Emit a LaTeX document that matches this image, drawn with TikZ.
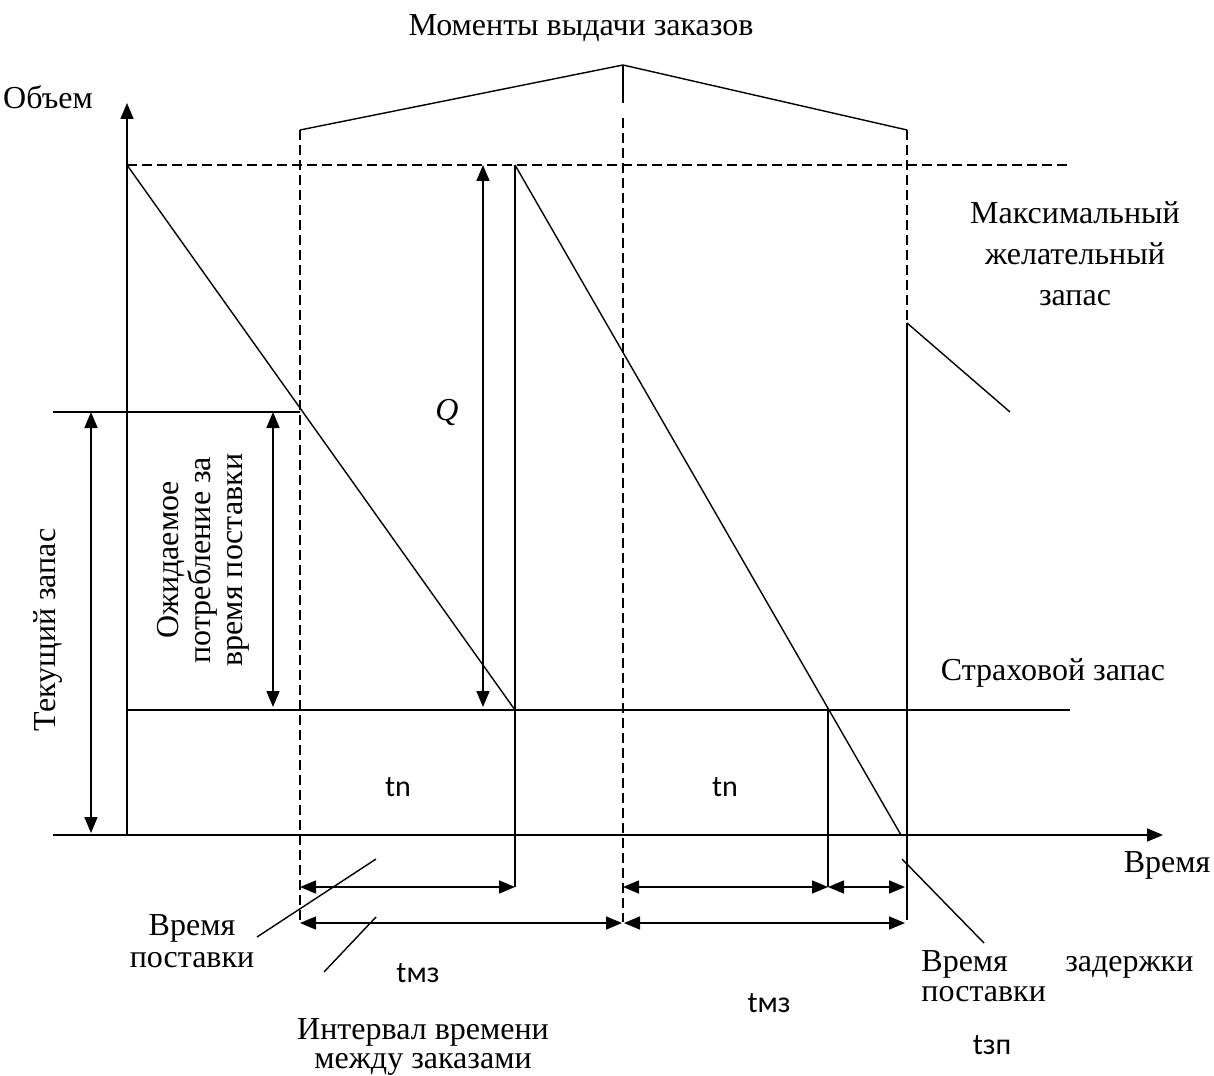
\documentclass[tikz,border=0pt]{standalone}
\usepackage{fontspec}
\setmainfont{Liberation Serif}
\newfontfamily\calib{Carlito}
\usetikzlibrary{arrows.meta,positioning}
\tikzset{
	>={Triangle[length=8pt,width=6.5pt]},
	thinline/.style={
		line width=0.7pt},
	dashline/.style={
		line width=0.7pt,
		dash pattern=on 5pt off 2.5pt},
	dimline/.style={
		<->,
		line width=0.8pt},
	axisline/.style={
		->,
		line width=0.8pt},
	caption/.style={
		inner sep=0pt,
		align=center,
		font=\fontsize{16}{16}\selectfont},
	tlabel/.style={
		inner sep=0pt,
		font=\calib\fontsize{15}{17}\selectfont}
}

\begin{document}
\begin{tikzpicture}[x=0.5pt, y=-0.5pt]
    \useasboundingbox (0,0) rectangle (1214,1075);

    % axes and levels
    \coordinate (O) at (127,835);
    \coordinate (ytop) at (127,103);
    \coordinate (xbeg) at (53,835);
    \coordinate (xend) at (1163,835);
    \coordinate (maxL) at (127,165);
    \coordinate (maxR) at (1070,165);
    \coordinate (safL) at (127,710);
    \coordinate (safR) at (1070,710);

    % order moments
    \coordinate (ordA) at (300,130);
    \coordinate (apex) at (623,65);
    \coordinate (apexlow) at (623,103);
    \coordinate (ordB) at (623,118);
    \coordinate (ordC) at (907,130);
    \coordinate (ordCend) at (907,323);

    % stock curve
    \coordinate (d1) at (515,710);
    \coordinate (r1) at (515,165);
    \coordinate (z2) at (901,835);
    \coordinate (reord) at (828,710);
    \coordinate (r2) at (907,323);
    \coordinate (d3) at (1010,412);

    \draw[axisline] (O) -- (ytop);
    \draw[axisline] (xbeg) -- (xend);
    \draw[dashline] (maxL) -- (maxR);
    \draw[thinline] (safL) -- (safR);

    \draw[thinline] (ordA) -- (apex) -- (ordC);
    \draw[thinline] (apex) -- (apexlow);
    \draw[dashline] (ordA) -- (300,922);
    \draw[dashline] (ordB) -- (623,922);
    \draw[dashline] (ordC) -- (ordCend);

    \draw[thinline] (maxL) -- (d1);
    \draw[thinline] (r1) -- (515,887);
    \draw[thinline] (r1) -- (z2);
    \draw[thinline] (reord) -- (828,887);
    \draw[thinline] (r2) -- (907,920);
    \draw[thinline] (r2) -- (d3);
    \draw[thinline] (53,412) -- (300,412);

    % vertical dimensions
    \draw[dimline] (91,412) -- (91,833);
    \draw[dimline] (273,412) -- (273,707);
    \draw[dimline] (483,165) -- (483,707);

    % horizontal dimensions
    \draw[dimline] (300,887) -- (515,887);
    \draw[dimline] (623,887) -- (828,887);
    \draw[dimline] (828,887) -- (905,887);
    \draw[dimline] (300,923) -- (622,923);
    \draw[dimline] (624,923) -- (905,923);

    % leaders
    \coordinate (leadA1) at (257,937);
    \coordinate (leadA2) at (376,859);
    \coordinate (leadB1) at (324,972);
    \coordinate (leadB2) at (376,917);
    \coordinate (leadC1) at (902,859);
    \coordinate (leadC2) at (984,943);
    \draw[thinline] (leadA1) -- (leadA2);
    \draw[thinline] (leadB1) -- (leadB2);
    \draw[thinline] (leadC1) -- (leadC2);

    % labels
    \node[caption] (moments) at (581,28) {Моменты выдачи заказов};
    \node[caption] (vol) at (48,97) {Объем};
    \node[caption] (time) at (1167,865) {Время};
    \node[caption] (Q) at (447,412) {\textit{Q}};
    \node[caption,
          font=\fontsize{16}{20.5}\selectfont
          ] (maxstock) at (1075,254) {Максимальный\\желательный\\запас};
    \node[caption] (safety) at (1053,673) {Страховой запас};
    \node[caption, rotate=90] (current) at (48,630) {Текущий запас};
    \node[caption, rotate=90] (expected) at (203,560) {Ожидаемое\\потребление за\\время поставки};
    \node[caption] (leadtime) at (192,941) {Время\\поставки};
    \node[caption,
          font=\fontsize{16}{14.5}\selectfont
          ] (interval) at (423,1047) {Интервал времени\\между заказами};
    \node[caption,
          anchor=west,
          text width=136pt,
          align=left,
          font=\fontsize{16}{15}\selectfont
          ] (delay) at (921,976) {Время\hfill задержки\\поставки};

    \node[tlabel] (tnA) at (398,787) {tn};
    \node[tlabel] (tnB) at (725,787) {tn};
    \node[tlabel] (tmzA) at (418,973) {tмз};
    \node[tlabel] (tmzB) at (769,1003) {tмз};
    \node[tlabel] (tzp) at (992,1045) {tзп};
\end{tikzpicture}
\end{document}
